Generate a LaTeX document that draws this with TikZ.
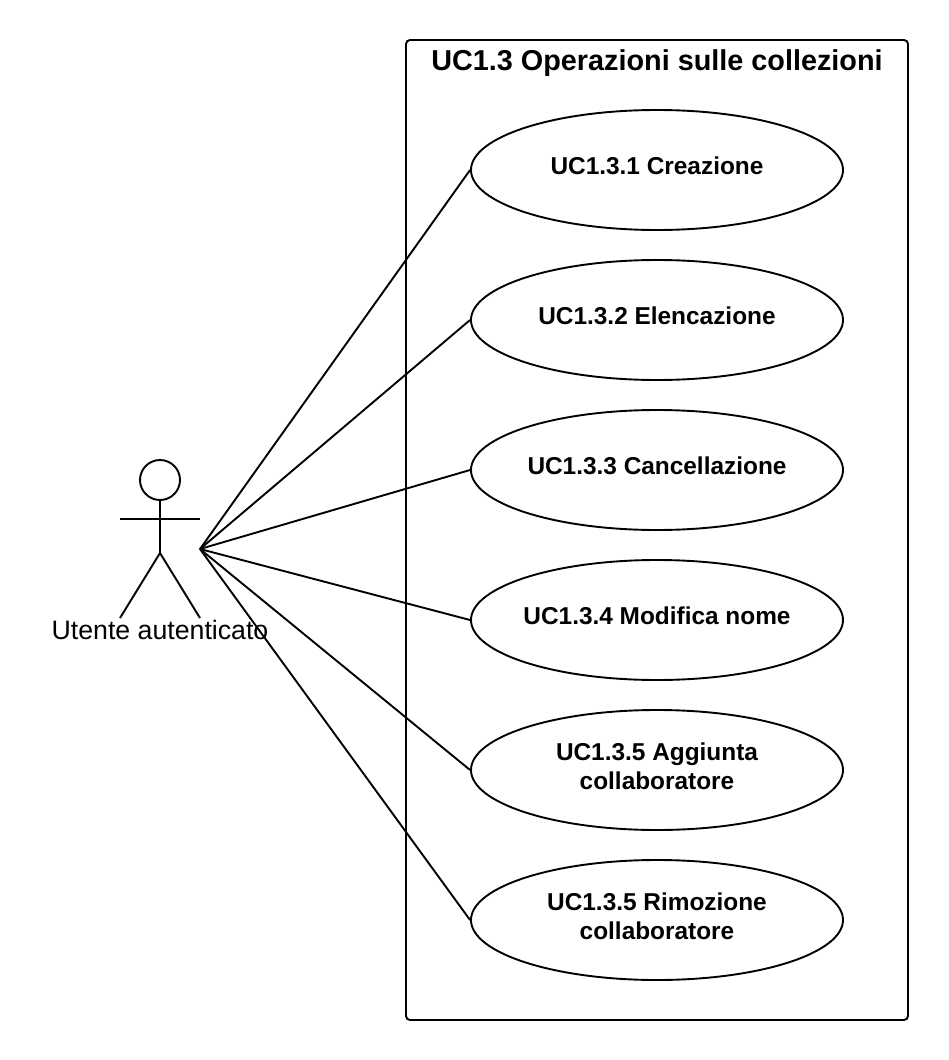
\documentclass[tikz,border=0pt]{standalone}
\usepackage{fontspec}
\setmainfont{Liberation Sans}
\usetikzlibrary{shapes.geometric}
\begin{document}
\begin{tikzpicture}[x=1pt,y=-1pt,line width=1.9pt,
  uc/.style={draw,ellipse,minimum width=372pt,minimum height=120pt,inner sep=0pt},
  uclabel/.style={align=center,inner sep=0pt,font=\fontsize{24.4pt}{29pt}\selectfont\bfseries}]
\useasboundingbox[fill=white] (0,0) rectangle (948,1060);
\node[draw,rounded corners=4pt,minimum width=502pt,minimum height=980pt,inner sep=0pt] (sys) at (657,530) {};
\node[font=\fontsize{28.8pt}{32pt}\selectfont\bfseries] (title) at (657,63) {UC1.3 Operazioni sulle collezioni};
\node[uc] (u1) at (657,170) {};
\node[uc] (u2) at (657,320) {};
\node[uc] (u3) at (657,470) {};
\node[uc] (u4) at (657,620) {};
\node[uc] (u5) at (657,770) {};
\node[uc] (u6) at (657,920) {};
\node[uclabel] (l1) at (657,166) {UC1.3.1 Creazione};
\node[uclabel] (l2) at (657,316) {UC1.3.2 Elencazione};
\node[uclabel] (l3) at (657,466) {UC1.3.3 Cancellazione};
\node[uclabel] (l4) at (657,616) {UC1.3.4 Modifica nome};
\node[uclabel] (l5) at (657,766) {UC1.3.5 Aggiunta\\collaboratore};
\node[uclabel] (l6) at (657,916) {UC1.3.5 Rimozione\\collaboratore};
\node[draw,circle,minimum size=40pt,inner sep=0pt] (head) at (160,480) {};
\coordinate (hip) at (160,553);
\coordinate (armL) at (120,519);
\coordinate (armR) at (200,519);
\coordinate (footL) at (120,618);
\coordinate (footR) at (200,618);
\coordinate (hand) at (200,549);
\draw (head.south) -- (hip);
\draw (armL) -- (armR);
\draw (footL) -- (hip) -- (footR);
\node[font=\fontsize{26.7pt}{30pt}\selectfont] (actor) at (160,630) {Utente autenticato};
\foreach \n in {u1,u2,u3,u4,u5,u6} \draw (hand) -- (\n.west);
\end{tikzpicture}
\end{document}
